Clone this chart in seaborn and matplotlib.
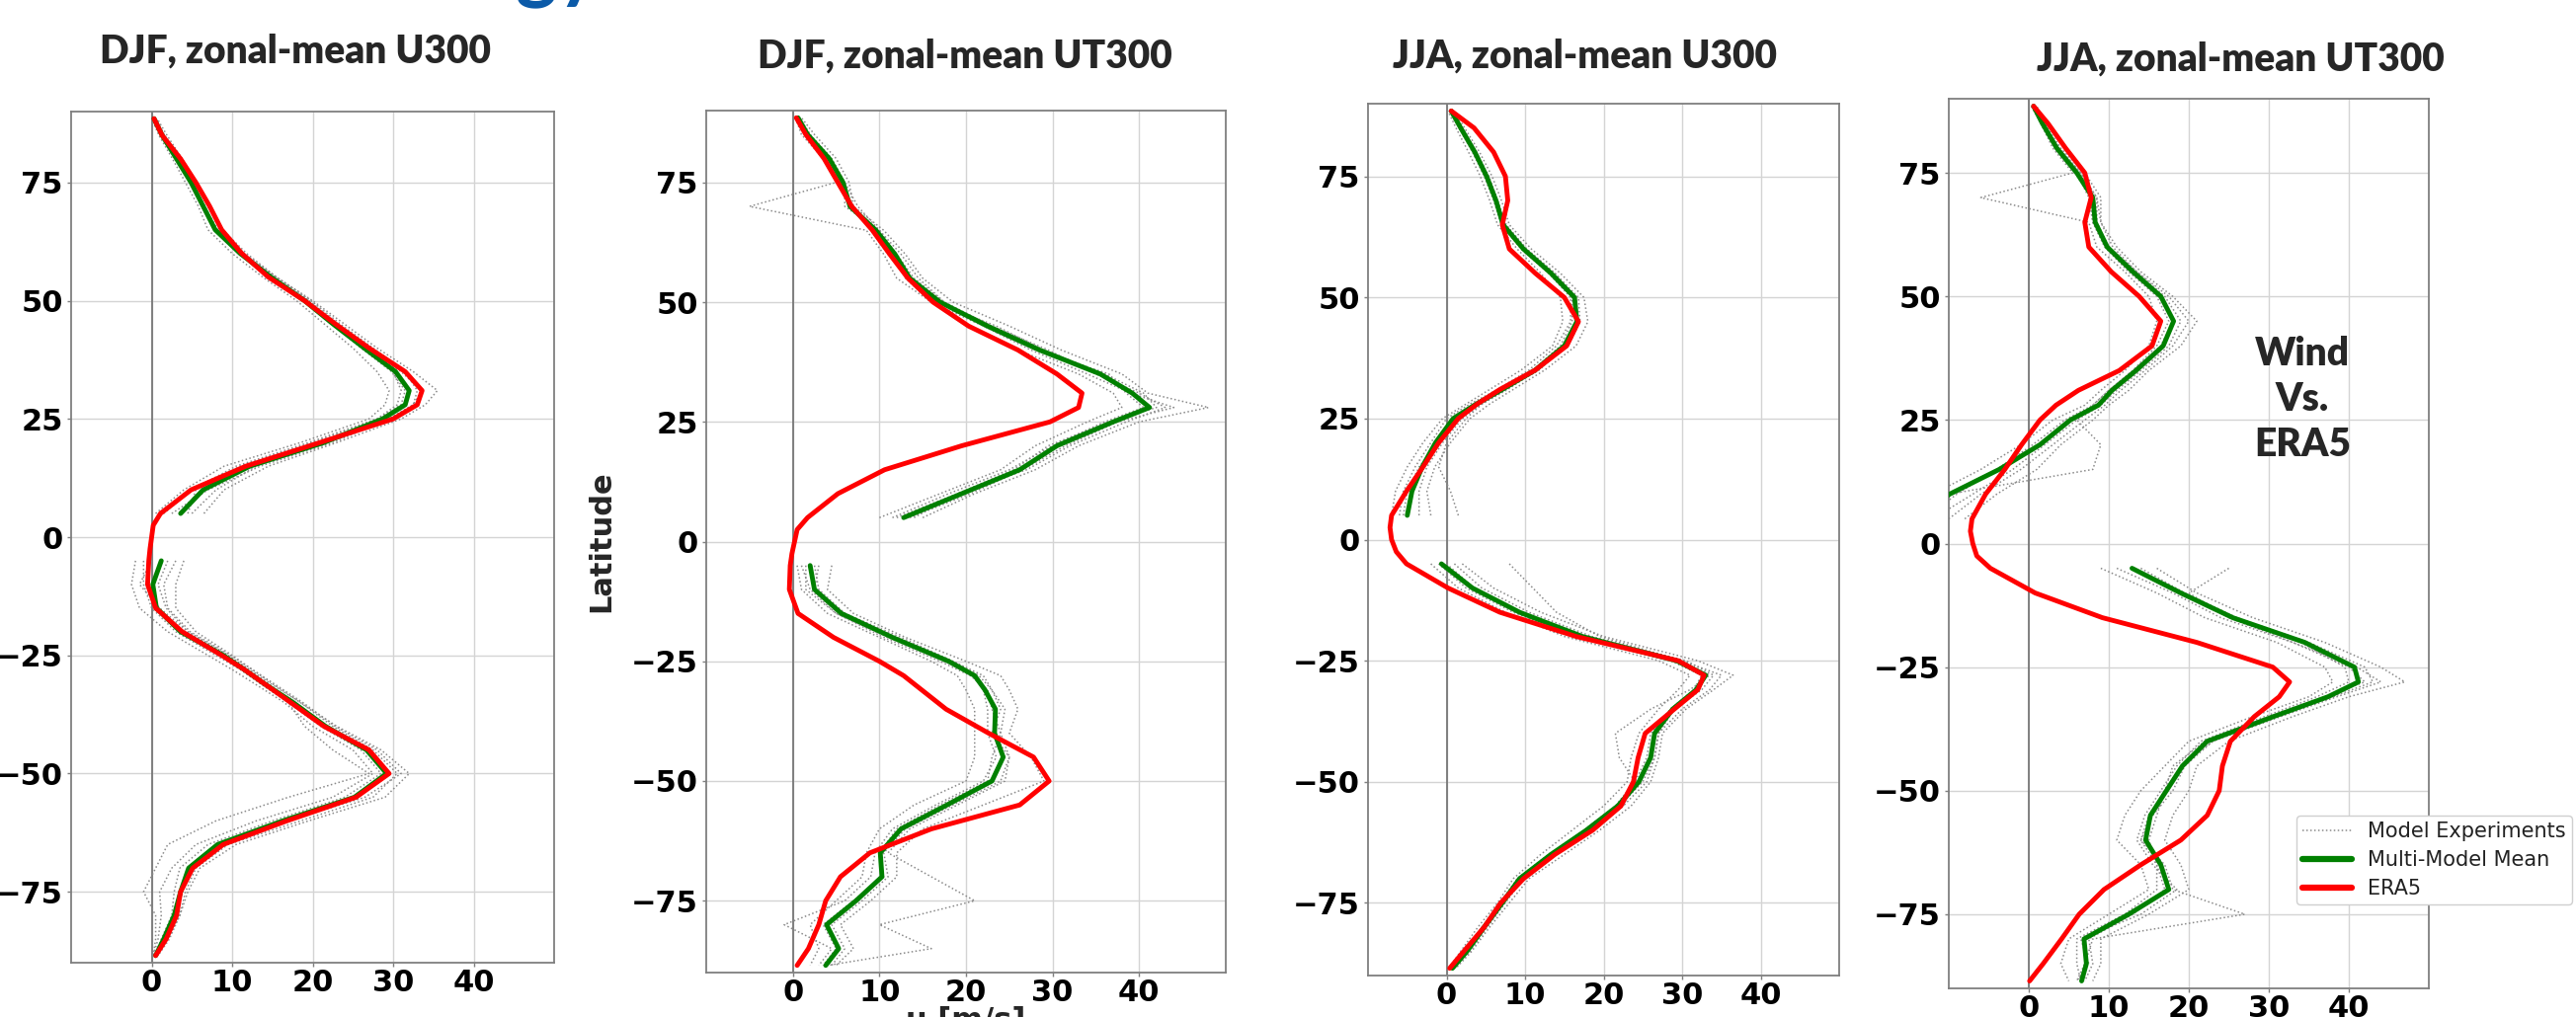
import matplotlib
matplotlib.use("Agg")
import matplotlib.pyplot as plt
from matplotlib.lines import Line2D
import pandas as pd
import seaborn as sns

# ---------------- data ----------------
LAT_N = [5, 10, 15, 20, 25, 28, 31, 35, 40, 45, 50, 55, 60, 65, 70, 75, 80, 85, 88.5]
LAT_S = [-5, -10, -15, -20, -25, -28, -31, -35, -40, -45, -50, -55, -60, -65, -70, -75, -80, -85, -88.5]
LAT_ERA5 = [-88.5, -85, -80, -75, -70, -65, -60, -55, -50, -45, -40, -35, -31, -28, -25, -20, -15, -10, -5,
            -2.5, 0, 2.5,
            5, 10, 15, 20, 25, 28, 31, 35, 40, 45, 50, 55, 60, 65, 70, 75, 80, 85, 88.5]

TITLES = ["DJF, zonal-mean U300", "DJF, zonal-mean UT300", "JJA, zonal-mean U300", "JJA, zonal-mean UT300"]
X_TICKS = [0, 10, 20, 30, 40]
Y_TICKS = [-75, -50, -25, 0, 25, 50, 75]
LEGEND_LABELS = ["Model Experiments", "Multi-Model Mean", "ERA5"]

# Panel 1: DJF U300
DJF_U300_ERA5 = [0.5, 1.8, 3.1, 3.6, 5.1, 8.9, 16.8, 25.4, 29.5, 27.0, 21.4, 17.3, 14.0, 11.5, 8.7, 3.8, 0.5, -0.5, -0.35,
                 -0.2, 0.0, 0.2,
                 1.1, 4.9, 11.7, 20.9, 30.0, 33.0, 33.6, 31.5, 27.0, 22.9, 19.0, 14.5, 11.2, 8.7, 7.2, 5.5, 3.6, 1.3, 0.3]
DJF_U300_MMM_N = [3.6, 6.4, 12.2, 21.4, 28.7, 31.5, 32.0, 30.3, 26.4, 22.6, 19.0, 14.8, 11.0, 7.9, 6.4, 4.9, 3.1, 1.3, 0.3]
DJF_U300_MMM_S = [1.2, 0.15, 0.6, 3.6, 8.9, 11.5, 14.0, 17.6, 21.6, 26.7, 29.2, 25.2, 16.3, 8.2, 4.6, 3.6, 2.8, 1.5, 0.5]
DJF_U300_MODELS_N = [
    [6.5, 9.0, 14.5, 23.0, 31.0, 34.0, 35.5, 32.5, 28.0, 24.0, 20.0, 15.5, 11.8, 8.8, 7.2, 5.6, 3.8, 1.9, 0.7],
    [0.5, 4.0, 9.0, 18.5, 27.0, 29.0, 29.5, 28.0, 25.0, 21.5, 18.0, 13.8, 10.0, 7.0, 5.8, 4.2, 2.6, 0.9, 0.0],
    [2.5, 7.0, 13.5, 22.5, 29.5, 32.5, 33.0, 31.5, 27.5, 23.5, 19.8, 15.5, 11.5, 8.5, 7.0, 5.3, 3.5, 1.6, 0.5],
    [4.5, 5.5, 11.0, 20.0, 28.0, 31.0, 31.5, 29.8, 26.0, 22.5, 19.5, 15.0, 11.0, 7.8, 6.2, 4.8, 3.0, 1.2, 0.2],
    [5.0, 8.0, 13.0, 21.5, 29.5, 32.5, 33.5, 31.0, 27.0, 23.2, 19.6, 15.2, 11.4, 8.2, 6.6, 5.0, 3.2, 1.4, 0.4],
    [1.5, 5.0, 10.5, 19.5, 28.0, 30.5, 31.0, 30.0, 26.8, 23.0, 19.4, 15.3, 11.3, 8.0, 6.6, 5.1, 3.3, 1.5, 0.4],
]
DJF_U300_MODELS_S = [
    [4.0, 3.0, 3.0, 5.5, 10.0, 12.5, 15.0, 18.5, 23.0, 28.5, 32.0, 29.0, 19.5, 10.5, 6.0, 4.5, 3.5, 2.2, 0.8],
    [-2.0, -2.5, -1.5, 2.0, 7.0, 10.0, 12.8, 16.5, 20.0, 25.0, 27.5, 22.5, 13.0, 5.5, 2.5, 1.0, 1.2, 0.8, 0.2],
    [0.0, -1.5, 1.0, 4.5, 9.5, 12.0, 14.5, 17.0, 19.0, 22.5, 27.0, 17.0, 8.0, 2.0, 0.5, -1.0, 0.5, 0.5, 0.2],
    [2.0, 0.8, 1.8, 4.5, 9.5, 12.2, 14.8, 18.5, 22.5, 27.5, 30.5, 27.5, 18.5, 9.5, 5.5, 4.2, 3.5, 2.0, 0.6],
    [3.0, 1.5, 2.0, 4.8, 9.8, 12.5, 15.2, 18.8, 22.8, 28.0, 31.0, 26.5, 17.0, 8.5, 4.8, 3.8, 3.0, 1.7, 0.5],
    [-1.0, -1.0, 0.0, 3.0, 8.0, 11.0, 13.5, 17.0, 21.0, 26.0, 28.5, 24.0, 15.0, 7.0, 3.5, 2.8, 2.5, 1.2, 0.4],
]

# Panel 2: DJF UT300
DJF_UT300_ERA5 = [0.5, 1.8, 3.0, 3.8, 5.5, 8.9, 16.0, 26.2, 29.6, 27.8, 22.6, 17.7, 14.9, 12.8, 10.0, 4.7, 0.6, -0.4, -0.3,
                  -0.1, 0.2, 0.5,
                  1.7, 5.2, 10.6, 19.5, 29.7, 33.0, 33.4, 30.5, 26.0, 20.3, 16.2, 13.3, 11.2, 9.2, 6.8, 5.2, 3.6, 1.5, 0.4]
DJF_UT300_MMM_N = [12.8, 19.5, 26.2, 30.5, 37.0, 41.2, 39.2, 35.5, 28.5, 22.5, 17.0, 13.5, 11.8, 9.6, 6.6, 5.8, 4.2, 1.7, 0.6]
DJF_UT300_MMM_S = [2.0, 2.5, 5.6, 11.5, 18.0, 21.0, 22.2, 23.4, 23.3, 24.3, 23.0, 17.8, 12.5, 10.1, 10.3, 7.3, 3.9, 5.3, 3.8]
DJF_UT300_MODELS_N = [
    [15.0, 21.0, 28.0, 33.0, 40.0, 48.0, 41.0, 38.0, 31.0, 25.0, 18.5, 15.0, 13.0, 10.5, 7.0, 6.5, 5.0, 2.5, 1.0],
    [10.0, 17.0, 24.0, 28.0, 34.0, 38.0, 37.0, 33.0, 26.0, 20.5, 16.0, 12.0, 10.5, 8.5, -5.0, 5.0, 3.5, 1.0, 0.3],
    [14.0, 19.0, 27.0, 32.0, 38.5, 43.0, 40.0, 35.0, 29.5, 23.0, 17.5, 14.0, 12.0, 10.0, 7.5, 6.0, 4.0, 2.0, 0.6],
    [11.5, 18.0, 25.0, 30.0, 36.0, 40.5, 38.5, 36.5, 28.0, 22.0, 16.0, 13.0, 11.5, 9.5, 6.5, 5.5, 4.0, 1.5, 0.5],
    [13.5, 20.5, 26.5, 31.5, 37.5, 44.0, 39.0, 34.0, 27.5, 22.0, 17.5, 14.5, 12.5, 10.0, 6.0, 6.0, 4.5, 2.0, 0.8],
    [12.0, 19.0, 25.5, 29.5, 36.5, 42.0, 40.5, 36.0, 29.0, 23.5, 16.5, 13.5, 11.0, 9.0, 7.0, 5.5, 4.0, 1.5, 0.5],
]
DJF_UT300_MODELS_S = [
    [4.5, 4.0, 7.0, 13.0, 20.0, 24.0, 25.0, 26.0, 25.0, 27.5, 29.0, 22.0, 15.0, 12.0, 12.0, 9.0, 5.5, 7.0, 5.0],
    [0.5, 1.0, 4.0, 10.0, 16.0, 19.0, 20.0, 21.0, 21.0, 21.0, 20.0, 14.0, 10.0, 8.5, 8.0, 5.0, 2.0, 3.0, 2.0],
    [2.5, 3.0, 6.0, 12.0, 18.5, 22.0, 23.0, 24.5, 24.0, 25.0, 24.5, 19.0, 13.5, 11.0, 16.0, 21.0, 10.0, 16.0, 4.0],
    [1.5, 1.5, 5.0, 11.0, 17.5, 21.0, 22.0, 22.5, 22.5, 23.5, 22.0, 16.5, 11.5, 9.5, 9.0, 6.0, -1.0, 4.5, 3.0],
    [3.0, 2.5, 6.0, 12.5, 18.5, 21.5, 23.0, 24.0, 23.0, 25.0, 24.0, 18.5, 13.0, 10.5, 11.0, 8.0, 4.5, 6.0, 4.5],
    [1.0, 2.0, 5.0, 10.5, 17.0, 20.5, 22.5, 23.0, 24.0, 23.0, 22.5, 17.0, 12.0, 10.0, 10.5, 7.0, 3.5, 5.0, 3.5],
]

# Panel 3: JJA U300
JJA_U300_ERA5 = [0.4, 2.2, 4.8, 6.9, 9.8, 13.8, 18.6, 22.2, 23.8, 24.4, 25.3, 29.0, 32.0, 32.8, 29.5, 16.5, 6.8, 0.2, -5.1,
                 -6.4, -7.0, -7.2,
                 -7.0, -5.1, -3.0, -1.0, 1.5, 3.9, 6.8, 11.3, 15.3, 16.8, 15.0, 11.3, 8.0, 7.1, 7.8, 7.5, 6.0, 3.5, 0.6]
JJA_U300_MMM_N = [-5.0, -4.4, -3.1, -1.4, 0.85, 3.8, 7.1, 11.3, 15.0, 16.6, 16.3, 13.3, 9.8, 7.2, 6.3, 5.1, 3.6, 1.8, 0.6]
JJA_U300_MMM_S = [-0.65, 3.3, 9.3, 17.3, 29.3, 33.0, 31.8, 28.8, 26.5, 26.0, 24.5, 21.8, 17.8, 13.3, 9.3, 7.1, 4.8, 2.6, 0.75]
JJA_U300_MODELS_N = [
    [-2.0, -2.5, -1.5, 0.5, 3.0, 5.5, 8.5, 12.5, 16.5, 18.0, 17.5, 14.5, 10.8, 8.0, 7.0, 5.8, 4.2, 2.3, 1.0],
    [-7.0, -6.5, -5.0, -3.0, -0.5, 2.5, 5.5, 9.5, 13.5, 14.8, 14.5, 12.0, 9.0, 6.5, 5.5, 4.3, 2.8, 1.2, 0.2],
    [1.5, 0.5, -1.0, 0.0, 2.5, 4.5, 7.5, 11.8, 15.0, 16.5, 16.5, 13.8, 10.2, 7.6, 6.5, 5.4, 3.8, 2.0, 0.7],
    [-5.5, -5.0, -3.5, -1.0, 1.5, 4.5, 7.5, 11.0, 14.5, 16.0, 16.0, 13.2, 9.8, 7.2, 6.2, 5.0, 3.4, 1.7, 0.5],
    [-3.5, -3.5, -2.5, -0.5, 2.0, 4.5, 7.8, 11.5, 15.5, 17.0, 16.8, 13.8, 10.2, 7.5, 6.5, 5.3, 3.8, 2.0, 0.7],
    [-6.0, -5.5, -4.0, -2.0, 0.0, 3.0, 6.5, 10.5, 14.0, 15.8, 15.8, 13.0, 9.5, 7.0, 6.0, 4.8, 3.3, 1.6, 0.4],
]
JJA_U300_MODELS_S = [
    [2.0, 6.0, 12.0, 20.0, 32.0, 36.5, 34.0, 30.5, 27.5, 27.0, 26.0, 23.5, 19.5, 15.0, 10.5, 8.0, 5.5, 3.2, 1.2],
    [-2.0, 1.5, 7.5, 15.0, 27.0, 31.0, 29.5, 27.0, 24.5, 23.5, 23.0, 20.0, 16.0, 12.0, 8.5, 6.5, 4.0, 1.8, 0.3],
    [8.0, 11.0, 14.0, 19.5, 30.0, 33.5, 31.0, 26.0, 21.5, 22.0, 24.0, 22.5, 18.5, 14.0, 9.5, 7.0, 4.5, 2.5, 0.8],
    [0.0, 3.5, 9.5, 18.0, 30.5, 34.0, 32.5, 29.0, 27.0, 26.5, 25.0, 22.0, 18.0, 13.5, 9.5, 7.3, 5.0, 2.8, 0.9],
    [-1.0, 2.5, 8.5, 16.5, 28.5, 32.5, 31.5, 28.5, 26.0, 25.5, 24.0, 21.5, 17.5, 13.0, 9.0, 6.8, 4.6, 2.4, 0.6],
    [1.0, 4.5, 10.5, 18.5, 30.0, 35.0, 33.5, 30.0, 27.0, 26.5, 25.5, 22.5, 18.5, 14.0, 9.8, 7.5, 5.2, 3.0, 1.0],
]

# Panel 4: JJA UT300
JJA_UT300_ERA5 = [0.1, 1.8, 4.1, 6.3, 9.4, 14.0, 19.0, 22.3, 23.8, 24.2, 25.2, 28.2, 31.3, 32.6, 30.5, 21.0, 9.2, 0.8, -4.8,
                  -6.5, -7.0, -7.3,
                  -7.1, -5.4, -3.0, -0.9, 1.4, 3.4, 6.2, 11.3, 15.4, 16.5, 13.8, 10.3, 7.5, 7.0, 7.8, 7.0, 4.6, 2.4, 0.6]
JJA_UT300_MMM_N = [-14.0, -9.9, -3.7, 1.4, 5.2, 8.7, 10.4, 13.4, 16.8, 18.1, 16.5, 13.0, 9.8, 8.3, 8.0, 6.0, 3.5, 1.7, 0.6]
JJA_UT300_MMM_S = [12.9, 19.0, 25.5, 34.5, 40.7, 41.2, 37.4, 30.6, 22.3, 19.2, 17.2, 15.2, 14.6, 16.5, 17.5, 12.5, 6.9, 7.2, 6.6]
JJA_UT300_MODELS_N = [
    [-8.0, -4.0, 1.0, 4.0, 8.0, 10.0, 12.5, 15.0, 19.0, 21.0, 18.0, 14.0, 11.0, 9.0, 9.0, 7.0, 4.0, 2.0, 1.0],
    [-16.0, -12.0, -6.0, -1.0, 3.0, 7.0, 9.0, 12.0, 15.0, 16.0, 15.0, 12.0, 8.5, 7.5, -6.0, 5.5, 3.0, 1.5, 0.3],
    [-12.0, -7.0, -2.0, 2.0, 6.0, 9.0, 11.0, 14.0, 17.5, 19.0, 17.0, 13.5, 10.0, 8.5, 8.5, 6.5, 3.8, 1.8, 0.7],
    [-15.0, -10.0, 8.0, 9.0, 6.0, 8.0, 10.0, 13.0, 16.5, 18.0, 16.5, 12.5, 9.5, 8.0, 7.5, 6.0, 3.3, 1.6, 0.5],
    [-10.0, -6.0, -1.0, 3.0, 7.0, 9.5, 11.5, 14.5, 18.0, 20.0, 17.5, 13.5, 10.5, 9.0, 8.5, 6.5, 3.8, 1.8, 0.8],
    [-13.0, -9.0, -4.0, 0.5, 4.5, 8.0, 10.0, 13.0, 16.0, 17.5, 16.0, 12.5, 9.5, 8.0, 7.8, 5.8, 3.4, 1.6, 0.5],
]
JJA_UT300_MODELS_S = [
    [16.0, 21.0, 28.0, 37.0, 44.0, 47.0, 40.0, 33.0, 25.0, 21.0, 20.0, 18.0, 17.0, 19.0, 20.0, 15.0, 9.0, 9.0, 8.0],
    [9.0, 16.0, 22.0, 31.0, 37.0, 38.0, 35.0, 28.0, 20.0, 17.0, 14.0, 12.0, 11.0, 14.0, 15.0, 10.0, 5.0, 4.0, 5.0],
    [13.0, 19.0, 26.0, 35.0, 42.0, 43.0, 38.0, 31.0, 23.0, 19.0, 17.0, 15.0, 14.0, 17.0, 18.0, 27.0, 8.0, 7.0, 6.0],
    [25.0, 20.0, 25.0, 33.0, 40.0, 42.0, 37.0, 30.0, 22.0, 18.0, 17.0, 16.0, 15.0, 16.0, 16.0, 12.0, 6.0, 6.0, 6.5],
    [11.0, 18.0, 24.0, 33.0, 41.0, 44.0, 38.5, 31.5, 23.0, 19.5, 18.0, 15.5, 14.0, 16.0, 17.0, 13.0, 7.5, 8.0, 7.0],
    [14.0, 19.5, 26.0, 34.0, 39.5, 40.0, 36.0, 29.5, 21.5, 18.5, 16.5, 14.5, 13.5, 15.5, 18.5, 14.0, 6.5, 7.5, 6.0],
]

PANEL_ERA5 = [DJF_U300_ERA5, DJF_UT300_ERA5, JJA_U300_ERA5, JJA_UT300_ERA5]
PANEL_MMM_N = [DJF_U300_MMM_N, DJF_UT300_MMM_N, JJA_U300_MMM_N, JJA_UT300_MMM_N]
PANEL_MMM_S = [DJF_U300_MMM_S, DJF_UT300_MMM_S, JJA_U300_MMM_S, JJA_UT300_MMM_S]
PANEL_MODELS_N = [DJF_U300_MODELS_N, DJF_UT300_MODELS_N, JJA_U300_MODELS_N, JJA_UT300_MODELS_N]
PANEL_MODELS_S = [DJF_U300_MODELS_S, DJF_UT300_MODELS_S, JJA_U300_MODELS_S, JJA_UT300_MODELS_S]

# ---------------- layout / style ----------------
W, H = 2608, 1030
# axes boxes in pixels: left, right, top, bottom
BOXES = [(72, 561, 113, 975), (715, 1241, 112, 985), (1385, 1862, 105, 988), (1973, 2459, 100, 1001)]
TITLE_XY = [(299, 52), (977, 57), (1604, 57), (2268, 60)]

MODEL_COLOR = "#8a8a8a"
MODEL_LS = (0, (1, 1.6))
MMM_COLOR = "#008000"
ERA_COLOR = "#ff0000"
TITLE_FONT = ["Lato", "DejaVu Sans"]

sns.set_theme(style="whitegrid")
plt.rcParams["font.family"] = ["DejaVu Sans"]
plt.rcParams["axes.unicode_minus"] = True

fig = plt.figure(figsize=(W / 100, H / 100), dpi=100)
fig.patch.set_facecolor("white")


def hemi_frame(vals_n, vals_s):
    rows = []
    for lat, u in zip(LAT_N, vals_n):
        rows.append({"lat": lat, "u": u, "unit": "N"})
    for lat, u in zip(LAT_S, vals_s):
        rows.append({"lat": lat, "u": u, "unit": "S"})
    return pd.DataFrame(rows)


def models_frame(models_n, models_s):
    rows = []
    for k, run in enumerate(models_n):
        for lat, u in zip(LAT_N, run):
            rows.append({"lat": lat, "u": u, "unit": f"n{k}"})
    for k, run in enumerate(models_s):
        for lat, u in zip(LAT_S, run):
            rows.append({"lat": lat, "u": u, "unit": f"s{k}"})
    return pd.DataFrame(rows)


axes = []
for i in range(4):
    l, r, t, b = BOXES[i]
    ax = fig.add_axes([l / W, 1 - b / H, (r - l) / W, (b - t) / H])
    axes.append(ax)
    ax.set_facecolor("white")

    dfm = models_frame(PANEL_MODELS_N[i], PANEL_MODELS_S[i])
    sns.lineplot(data=dfm, x="u", y="lat", units="unit", estimator=None, sort=False, orient="y",
                 color=MODEL_COLOR, lw=1.1, linestyle=MODEL_LS, ax=ax, legend=False, zorder=2)

    dfg = hemi_frame(PANEL_MMM_N[i], PANEL_MMM_S[i])
    sns.lineplot(data=dfg, x="u", y="lat", units="unit", estimator=None, sort=False, orient="y",
                 color=MMM_COLOR, lw=3.5, ax=ax, legend=False, zorder=3)

    dfe = pd.DataFrame({"lat": LAT_ERA5, "u": PANEL_ERA5[i]})
    sns.lineplot(data=dfe, x="u", y="lat", estimator=None, sort=False, orient="y",
                 color=ERA_COLOR, lw=3.5, ax=ax, legend=False, zorder=4)

    ax.axvline(0, color="#6e6e6e", lw=1.2, zorder=1.5)
    ax.set_xlim(-10, 50)
    ax.set_ylim(-90, 90)
    ax.set_xticks(X_TICKS)
    ax.set_yticks(Y_TICKS)
    ax.grid(True, color="#d4d4d4", lw=1.0)
    ax.set_axisbelow(True)
    for sp in ax.spines.values():
        sp.set_visible(True)
        sp.set_color("#7f7f7f")
        sp.set_linewidth(1.3)
    ax.tick_params(axis="both", which="major", labelsize=22, length=3, width=1, color="#7f7f7f",
                   pad=3, left=True, bottom=True, labelcolor="black")
    ax.tick_params(axis="x", pad=1.5)
    for lab in ax.get_xticklabels() + ax.get_yticklabels():
        lab.set_fontweight("bold")
    ax.set_xlabel("")
    ax.set_ylabel("")

    tx, ty = TITLE_XY[i]
    ax.set_title(TITLES[i], x=(tx - l) / (r - l), y=(b - ty) / (b - t), pad=0, va="center",
                 fontsize=28, fontweight="heavy", family=TITLE_FONT)

# axis labels on the second panel
ax2 = axes[1]
ax2.set_ylabel("Latitude", fontsize=22, fontweight="bold")
ax2.yaxis.set_label_coords(-0.175, 0.5)
ax2.set_xlabel("u [m/s]", fontsize=22, fontweight="bold")
ax2.xaxis.set_label_coords(0.5, -0.038)

# legend (partly cut at the right edge, as in the reference)
handles = [Line2D([], [], color=MODEL_COLOR, lw=1.1, linestyle=MODEL_LS),
           Line2D([], [], color=MMM_COLOR, lw=4.5),
           Line2D([], [], color=ERA_COLOR, lw=4.5)]
leg = fig.legend(handles, LEGEND_LABELS, loc="upper left",
                 bbox_to_anchor=(2325 / W, 1 - 826 / H), borderaxespad=0, fontsize=15,
                 handlelength=2.4, handletextpad=0.75, labelspacing=0.43, borderpad=0.3,
                 frameon=True, framealpha=1.0, edgecolor="#cfcfcf", facecolor="white")
for txt in leg.get_texts():
    txt.set_color("#222222")

fig.text(2331 / W, 1 - 405 / H, "Wind\nVs.\nERA5", ha="center", va="center", multialignment="center",
         fontsize=28, fontweight="heavy", family=TITLE_FONT, linespacing=1.3)

# fragment of the slide heading cut at the top edge (only its descenders show)
fig.text(522 / W, 1 + 7 / H, "gy", color="#0b5aa8", fontsize=58, fontweight="bold",
         family=TITLE_FONT, ha="left", va="baseline")

fig.savefig("out.png", dpi=100, facecolor="white")
